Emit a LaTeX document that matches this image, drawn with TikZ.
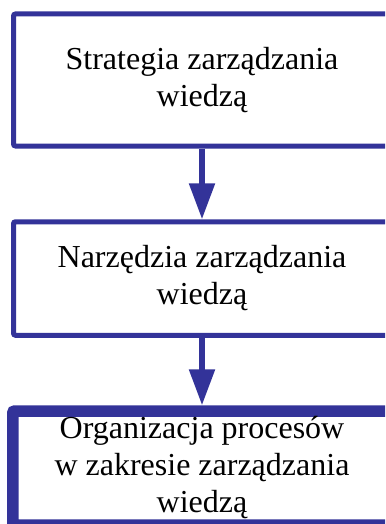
\documentclass[tikz,border=0pt]{standalone}
\usepackage{fontspec}
\setmainfont{Liberation Serif}
\usetikzlibrary{arrows.meta}
\definecolor{flowblue}{RGB}{51,51,153}
\tikzset{
  stagebox/.style={draw=flowblue, line width=5pt, rounded corners=2pt,
    fill=white, align=center, inner sep=0pt,
    font=\fontsize{32}{37}\selectfont},
  flowarrow/.style={draw=flowblue, line width=5.5pt,
    -{Triangle[width=25pt,length=36pt]}, shorten >=0pt}
}
\begin{document}
\begin{tikzpicture}[x=1pt,y=-1pt]
  \useasboundingbox (0,0) rectangle (385,524);
  \clip (0,0) rectangle (385,524);
  \fill[white] (0,0) rectangle (385,524);
  % three stages of the knowledge management chain
  \node[stagebox, minimum width=377pt, minimum height=132pt]
    (strategy) at (202,80) {Strategia zarządzania\\wiedzą};
  \node[stagebox, minimum width=377pt, minimum height=113.5pt]
    (tools) at (202,278.5) {Narzędzia zarządzania\\wiedzą};
  \node[stagebox, line width=11.5pt, minimum width=378.5pt, minimum height=114pt]
    (processes) at (202,468) {Organizacja procesów\\w zakresie zarządzania\\wiedzą};
  % connectors
  \draw[flowarrow] (strategy.south) -- (tools.north);
  \draw[flowarrow] (tools.south) -- (processes.north);
\end{tikzpicture}
\end{document}
